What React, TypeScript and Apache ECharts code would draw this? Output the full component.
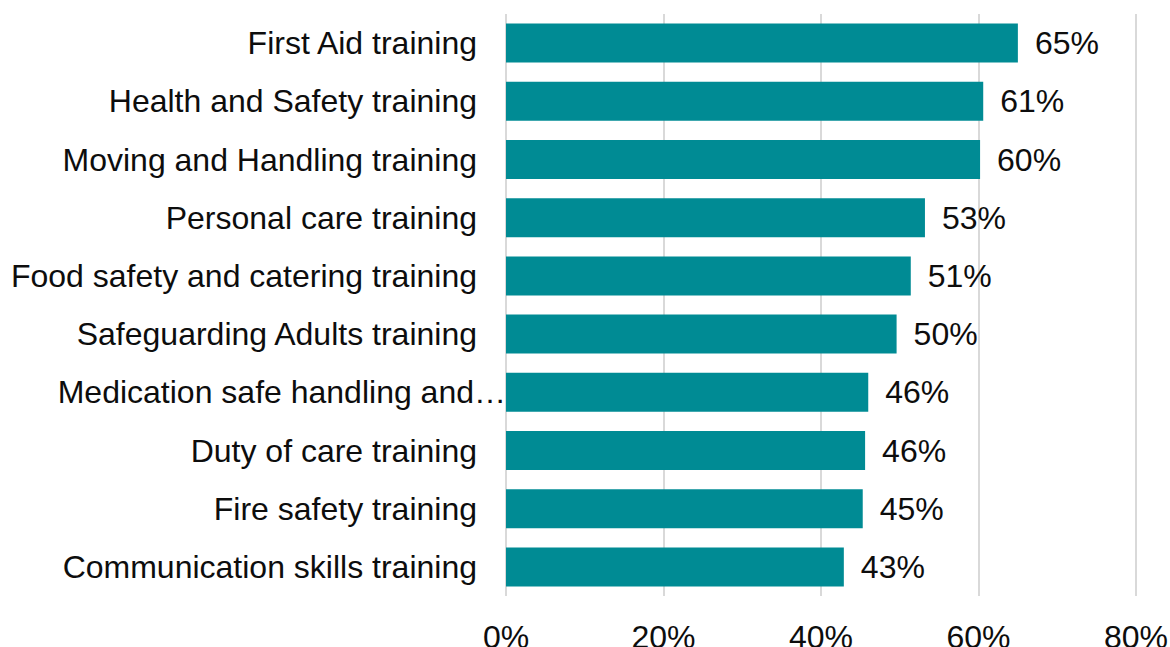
import React, { useEffect, useRef } from "react";
import * as echarts from "echarts";

const categories = [
  "First Aid training",
  "Health and Safety training",
  "Moving and Handling training",
  "Personal care training",
  "Food safety and catering training",
  "Safeguarding Adults training",
  "Medication safe handling and…",
  "Duty of care training",
  "Fire safety training",
  "Communication skills training",
];
const values = [65.0, 60.6, 60.2, 53.2, 51.4, 49.6, 46.0, 45.6, 45.3, 42.9];
const truncatedCategories = ["Medication safe handling and…"];

export default function App() {
  const ref = useRef<HTMLDivElement>(null);
  useEffect(() => {
    if (!ref.current) return;
    const chart = echarts.init(ref.current, undefined, { renderer: "svg" });
    const font = "Liberation Sans, Arial, sans-serif";
    chart.setOption({
      animation: false,
      grid: {
        left: 506,
        right: 34,
        top: 14,
        bottom: 51,
        containLabel: false,
        outerBoundsMode: "none",
      },
      xAxis: {
        type: "value",
        min: 0,
        max: 80,
        interval: 20,
        axisLabel: {
          formatter: "{value}%",
          fontSize: 32,
          fontFamily: font,
          color: "#0d0d0d",
          margin: 25,
        },
        axisLine: { show: false },
        axisTick: { show: false },
        splitLine: { show: true, lineStyle: { color: "#d9d9d9", width: 2 } },
      },
      yAxis: {
        type: "category",
        data: categories,
        inverse: true,
        axisLine: { show: false },
        axisTick: { show: false },
        axisLabel: {
          margin: 0,
          formatter: (v: string) =>
            truncatedCategories.includes(v) ? `{b|${v}}` : `{a|${v}}`,
          rich: {
            a: { fontSize: 32, fontFamily: font, color: "#0d0d0d", padding: [0, 29, 0, 0] },
            b: { fontSize: 32, fontFamily: font, color: "#0d0d0d", padding: [0, 0, 0, 0] },
          },
        },
      },
      series: [
        {
          type: "bar",
          data: values,
          barCategoryGap: "33%",
          itemStyle: { color: "#008b94" },
          label: {
            show: true,
            position: "right",
            distance: 17,
            formatter: (p: any) => `${Math.round(p.value)}%`,
            fontSize: 32,
            fontFamily: font,
            color: "#0d0d0d",
          },
        },
      ],
    });
    return () => chart.dispose();
  }, []);
  return (
    <div
      ref={ref}
      style={{ position: "fixed", left: 0, top: 0, width: 1170, height: 647, background: "#fff" }}
    />
  );
}
